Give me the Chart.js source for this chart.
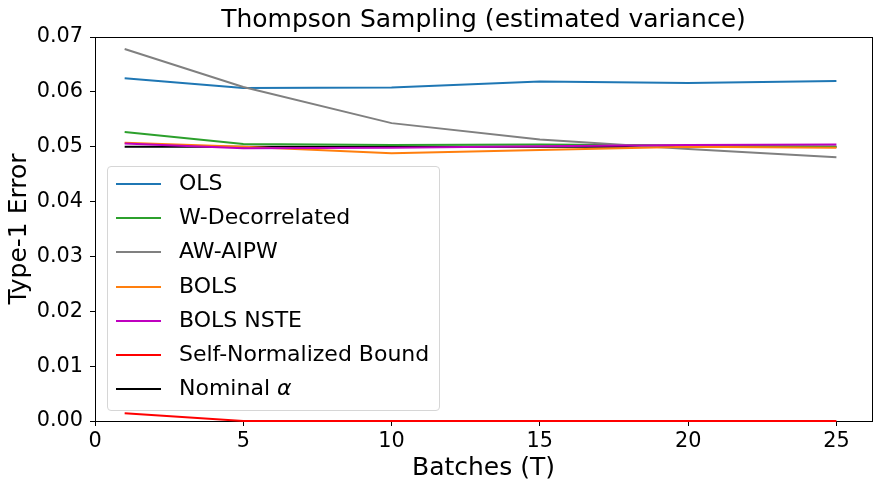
<!DOCTYPE html>
<html>
<head>
<meta charset="utf-8">
<script src="https://cdn.jsdelivr.net/npm/chart.js@4"></script>
<style>
    body { margin: 0; background: #fff; }
    #wrap { position: relative; width: 880px; height: 491px; }
    #legend {
        position: absolute; left: 107px; top: 166px; width: 331px; height: 243px;
        border: 1px solid #d6d6d6; border-radius: 4px; background: rgba(255,255,255,0.8);
        font-family: "DejaVu Sans", sans-serif; font-size: 22px; color: #000;
        box-sizing: content-box;
    }
    .item { position: absolute; left: 0; height: 34px; width: 100%; }
    .swatch { position: absolute; left: 8px; top: 16px; width: 45px; height: 2px; }
    .label { position: absolute; left: 71px; top: 3px; white-space: nowrap; line-height: 26px; }
</style>
</head>
<body>
<div id="wrap">
    <canvas id="myChart" width="880" height="491"></canvas>
    <div id="legend"></div>
</div>
<script>
// x values (batches T) and tick labels
const batches = [1, 5, 10, 15, 20, 25];
const xTickValues = [0, 5, 10, 15, 20, 25];
const yTickValues = [0, 0.01, 0.02, 0.03, 0.04, 0.05, 0.06, 0.07];

// type-1 error per method
const olsErr      = [0.0625, 0.0607, 0.0608, 0.0619, 0.0616, 0.0620];
const wDecorErr   = [0.0527, 0.0505, 0.0503, 0.0504, 0.0502, 0.0500];
const awAipwErr   = [0.0678, 0.0609, 0.0543, 0.0513, 0.0496, 0.0481];
const bolsErr     = [0.0507, 0.0500, 0.0488, 0.0494, 0.0500, 0.0498];
const bolsNsteErr = [0.0506, 0.0497, 0.0498, 0.0501, 0.0503, 0.0504];
const selfNormErr = [0.0014, 0.0000, 0.0000, 0.0000, 0.0000, 0.0000];
const nominalErr  = [0.0500, 0.0500, 0.0500, 0.0500, 0.0500, 0.0500];

const seriesNames  = ['OLS', 'W-Decorrelated', 'AW-AIPW', 'BOLS', 'BOLS NSTE', 'Self-Normalized Bound', 'Nominal α'];
const seriesValues = [olsErr, wDecorErr, awAipwErr, bolsErr, bolsNsteErr, selfNormErr, nominalErr];
const seriesColors = ['#1f77b4', '#2ca02c', '#808080', '#ff7f0e', '#bf00bf', '#ff0000', '#000000'];
// nominal line sits underneath the others
const drawOrder    = [6, 5, 4, 3, 2, 1, 7];

const FONT = '"DejaVu Sans", sans-serif';

function frameAxis(pos, extra) {
    return Object.assign({
        type: 'linear',
        position: pos,
        ticks: { display: false },
        grid: { display: false },
        border: { display: true, color: '#000', width: 1 }
    }, extra);
}

const datasets = seriesNames.map((name, i) => ({
    label: name,
    data: batches.map((b, j) => ({ x: b, y: seriesValues[i][j] })),
    borderColor: seriesColors[i],
    backgroundColor: seriesColors[i],
    borderWidth: 2,
    pointRadius: 0,
    tension: 0,
    fill: false,
    clip: 4,
    order: drawOrder[i]
}));

const ctx = document.getElementById('myChart');
const myChart = new Chart(ctx, {
    type: 'line',
    data: { datasets: datasets },
    options: {
        responsive: false,
        animation: false,
        layout: { padding: { left: 0, right: 8, top: 0, bottom: 0 } },
        plugins: { legend: { display: false }, tooltip: { enabled: false } },
        scales: {
            x: {
                type: 'linear',
                position: 'bottom',
                min: 0,
                max: 26.2,
                afterBuildTicks: s => { s.ticks = xTickValues.map(v => ({ value: v })); },
                afterFit: s => { s.height = 70; },
                ticks: { color: '#000', font: { family: FONT, size: 20.8 }, padding: 3, maxRotation: 0 },
                grid: { display: true, drawOnChartArea: false, drawTicks: true, tickLength: 5, color: '#000', lineWidth: 1 },
                border: { display: true, color: '#000', width: 1 },
                title: { display: true, text: 'Batches (T)', color: '#000', font: { family: FONT, size: 25 }, padding: { top: 0, bottom: 8 } }
            },
            xTop: frameAxis('top', {
                afterFit: s => { s.height = 37; },
                title: { display: true, text: 'Thompson Sampling (estimated variance)', color: '#000', font: { family: FONT, size: 25 }, padding: { top: 5, bottom: 0 } }
            }),
            y: {
                type: 'linear',
                position: 'left',
                min: 0,
                max: 0.07,
                afterBuildTicks: s => { s.ticks = yTickValues.map(v => ({ value: v })); },
                afterFit: s => { s.width = 95; },
                ticks: { color: '#000', font: { family: FONT, size: 20.8 }, padding: 7, callback: v => v.toFixed(2) },
                grid: { display: true, drawOnChartArea: false, drawTicks: true, tickLength: 5, color: '#000', lineWidth: 1 },
                border: { display: true, color: '#000', width: 1 },
                title: { display: true, text: 'Type-1 Error', color: '#000', font: { family: FONT, size: 25 }, padding: { top: 4, bottom: 0 } }
            },
            yRight: frameAxis('right', { afterFit: s => { s.width = 0; } })
        }
    }
});

// legend drawn inside the plot, like the original
const legendBox = document.getElementById('legend');
seriesNames.forEach((name, i) => {
    const item = document.createElement('div');
    item.className = 'item';
    item.style.top = (i * 34.2) + 'px';
    const sw = document.createElement('div');
    sw.className = 'swatch';
    sw.style.background = seriesColors[i];
    const lab = document.createElement('div');
    lab.className = 'label';
    lab.innerHTML = name.replace('α', '<i>α</i>');
    item.appendChild(sw);
    item.appendChild(lab);
    legendBox.appendChild(item);
});
</script>
</body>
</html>
